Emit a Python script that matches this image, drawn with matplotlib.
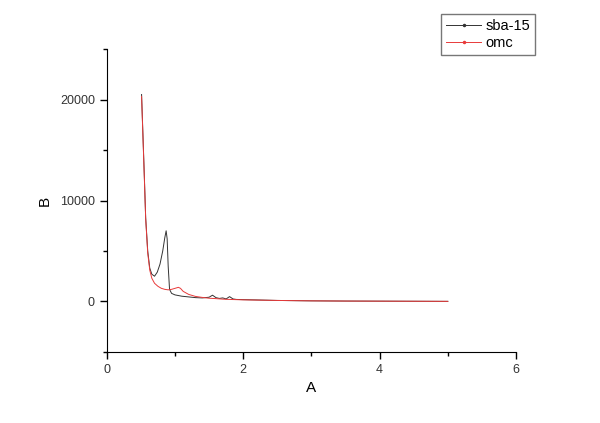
import matplotlib
matplotlib.use("Agg")
import matplotlib.pyplot as plt
from matplotlib.lines import Line2D
from matplotlib.ticker import MultipleLocator

plt.rcParams["font.family"] = ["Liberation Sans", "DejaVu Sans"]

# sba-15 (black)
sba_x = [0.51, 0.53, 0.55, 0.57, 0.60, 0.63, 0.66, 0.70, 0.74, 0.78, 0.82,
         0.85, 0.87, 0.885, 0.90, 0.92, 0.95, 1.0, 1.1, 1.2, 1.3, 1.4, 1.5, 1.55,
         1.6, 1.65, 1.7, 1.75, 1.8, 1.85, 1.9, 2.0, 2.2, 2.5, 3.0, 3.5, 4.0, 4.5, 5.0]
sba_y = [20500, 16500, 12500, 8300, 5000, 3300, 2700, 2500, 2900, 3700, 5000,
         6300, 7000, 6200, 3500, 1200, 800, 650, 520, 450, 380, 350, 420, 620,
         380, 300, 350, 250, 480, 250, 200, 180, 150, 100, 60, 40, 30, 20, 10]

# omc (red)
omc_x = [0.51, 0.53, 0.55, 0.57, 0.60, 0.63, 0.66, 0.70, 0.75, 0.80, 0.85,
         0.90, 0.95, 1.0, 1.05, 1.08, 1.12, 1.2, 1.3, 1.4, 1.5, 1.6, 1.7, 1.8,
         2.0, 2.5, 3.0, 3.5, 4.0, 4.5, 5.0]
omc_y = [20300, 16300, 12300, 8200, 4800, 3100, 2300, 1800, 1500, 1300, 1200,
         1150, 1200, 1300, 1400, 1300, 1000, 700, 500, 400, 320, 280, 230, 200,
         160, 100, 60, 40, 30, 20, 10]

fig = plt.figure(figsize=(6.0, 4.23), dpi=100)
ax = fig.add_axes([0.178, 0.168, 0.682, 0.716])

ax.plot(sba_x, sba_y, color="#333333", lw=0.7)
ax.plot(omc_x, omc_y, color="#e83a3a", lw=0.7)

ax.set_xlim(0, 6)
ax.set_ylim(-5000, 25000)
ax.xaxis.set_major_locator(MultipleLocator(2))
ax.xaxis.set_minor_locator(MultipleLocator(1))
ax.yaxis.set_major_locator(MultipleLocator(10000))
ax.yaxis.set_minor_locator(MultipleLocator(5000))
ax.spines["top"].set_visible(False)
ax.spines["right"].set_visible(False)
ax.tick_params(which="major", length=5, width=1, labelsize=9,
               colors="black", labelcolor="#333333")
ax.tick_params(which="minor", length=3, width=1)
ax.set_xlabel("A", fontsize=11, labelpad=4)
ax.set_ylabel("B", fontsize=11, labelpad=6)

handles = [
    Line2D([], [], color="#333333", lw=0.7, marker=".", markersize=3),
    Line2D([], [], color="#e83a3a", lw=0.7, marker=".", markersize=3),
]
fig.legend(handles, ["sba-15", "omc"], loc="upper left",
           bbox_to_anchor=(441 / 600, 1 - 14 / 423), fontsize=10.5,
           frameon=True, fancybox=False, edgecolor="#555555",
           handlelength=2.4, borderpad=0.35, labelspacing=0.2,
           handletextpad=0.3, borderaxespad=0)

fig.savefig("out.png", dpi=100, facecolor="white")
